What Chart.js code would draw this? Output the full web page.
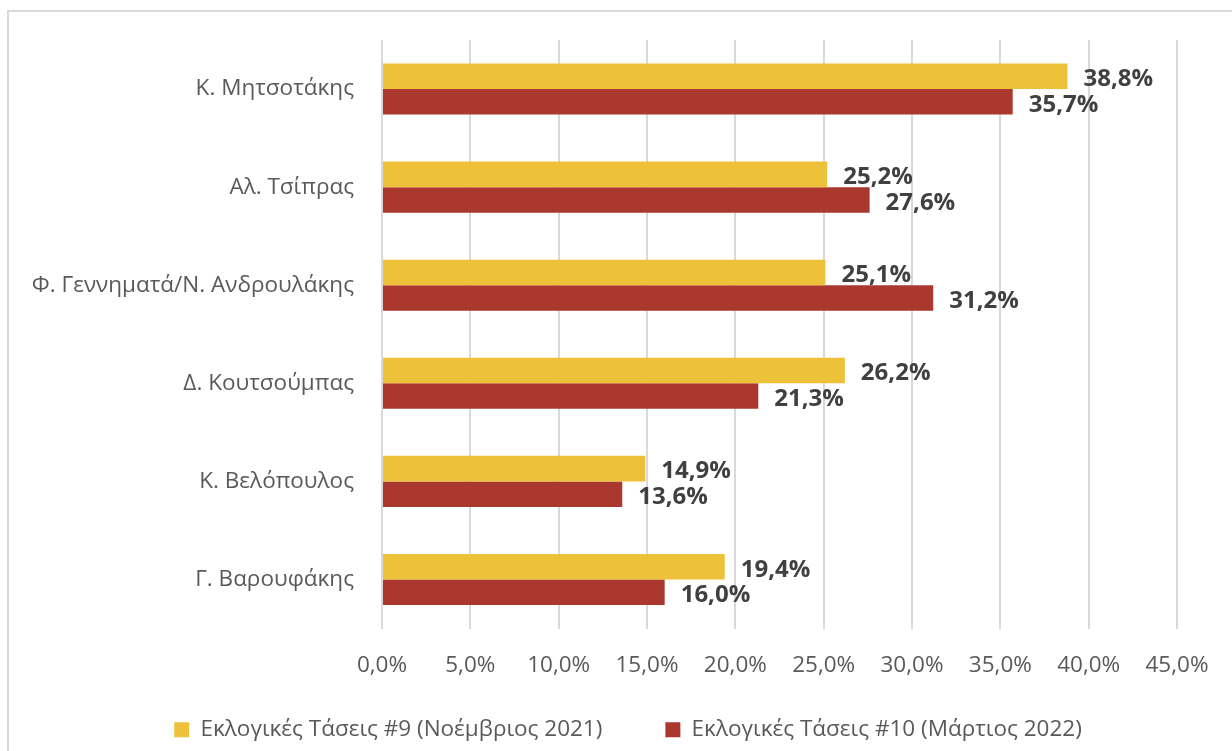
<!DOCTYPE html>
<html>
<head>
<meta charset="utf-8">
<script src="https://cdn.jsdelivr.net/npm/chart.js@4"></script>
<style>
    html, body { margin: 0; padding: 0; background: #fff; }
    #wrap { width: 1232px; height: 751px; position: relative; }
</style>
</head>
<body>
<div id="wrap"><canvas id="pollChart"></canvas></div>
<script>
// Data
const leaders = [
    "Κ. Μητσοτάκης",
    "Αλ. Τσίπρας",
    "Φ. Γεννηματά/Ν. Ανδρουλάκης",
    "Δ. Κουτσούμπας",
    "Κ. Βελόπουλος",
    "Γ. Βαρουφάκης",
];
const poll9 = [38.8, 25.2, 25.1, 26.2, 14.9, 19.4];
const poll10 = [35.7, 27.6, 31.2, 21.3, 13.6, 16.0];
const seriesNames = [
    "Εκλογικές Τάσεις #9 (Νοέμβριος 2021)",
    "Εκλογικές Τάσεις #10 (Μάρτιος 2022)",
];

const colors = {
    yellow: "#EDC23A",
    red: "#AB382E",
    grid: "#D9D9D9",
    text: "#595959",
    label: "#404040",
};

const fontFamily = "'Open Sans'";
const fmt = (v) => v.toFixed(1).replace(".", ",") + "%";

// outer frame like the office chart border
const framePlugin = {
    id: "frame",
    beforeDraw(chart) {
        const ctx = chart.ctx;
        ctx.save();
        ctx.strokeStyle = colors.grid;
        ctx.lineWidth = 2;
        ctx.strokeRect(8, 11, chart.width + 10, chart.height + 10);
        ctx.restore();
    },
};

// value labels at the end of each bar
const valueLabels = {
    id: "valueLabels",
    afterDatasetsDraw(chart) {
        const ctx = chart.ctx;
        ctx.save();
        ctx.font = "bold 24px " + fontFamily;
        ctx.fillStyle = colors.label;
        ctx.textAlign = "left";
        ctx.textBaseline = "middle";
        chart.data.datasets.forEach((ds, i) => {
            chart.getDatasetMeta(i).data.forEach((bar, j) => {
                ctx.fillText(fmt(ds.data[j]), bar.x + 16, bar.y + 3);
            });
        });
        ctx.restore();
    },
};

new Chart(document.getElementById("pollChart").getContext("2d"), {
    type: "bar",
    data: {
        labels: leaders,
        datasets: [
            {
                label: seriesNames[0],
                data: poll9,
                backgroundColor: colors.yellow,
                barPercentage: 1,
                categoryPercentage: 0.52,
            },
            {
                label: seriesNames[1],
                data: poll10,
                backgroundColor: colors.red,
                barPercentage: 1,
                categoryPercentage: 0.52,
            },
        ],
    },
    options: {
        indexAxis: "y",
        responsive: true,
        maintainAspectRatio: false,
        animation: false,
        layout: {
            padding: { top: 40, right: 0, left: 24, bottom: 0 },
        },
        plugins: {
            legend: {
                position: "bottom",
                labels: {
                    boxWidth: 15,
                    boxHeight: 15,
                    padding: 18,
                    color: colors.text,
                    font: { family: fontFamily, size: 22.5 },
                    // wider gap after the first entry, like the original
                    generateLabels(chart) {
                        const items = Chart.defaults.plugins.legend.labels.generateLabels(chart);
                        items[0].text += "\u2002\u2002\u2002\u2002";
                        return items;
                    },
                },
            },
            tooltip: { enabled: false },
        },
        scales: {
            x: {
                min: 0,
                max: 45,
                ticks: {
                    stepSize: 5,
                    padding: 24,
                    color: colors.text,
                    font: { family: fontFamily, size: 22.5 },
                    callback: (v) => fmt(v),
                },
                grid: {
                    color: colors.grid,
                    lineWidth: 2,
                    drawTicks: false,
                },
                border: { display: false },
                afterFit(scale) {
                    scale.paddingRight = 55;
                    scale.height = 72;
                },
            },
            y: {
                ticks: {
                    padding: 20,
                    color: colors.text,
                    font: { family: fontFamily, size: 22.5 },
                },
                grid: { display: false },
                border: { display: false },
                afterFit(scale) {
                    scale.width = 358;
                },
            },
        },
    },
    plugins: [framePlugin, valueLabels],
});
</script>
</body>
</html>
